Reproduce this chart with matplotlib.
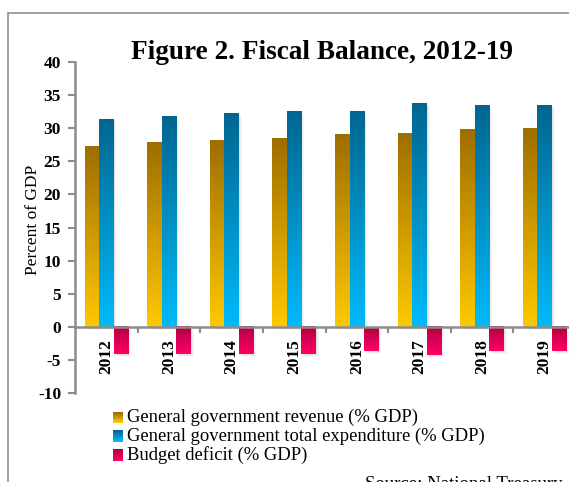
import numpy as np
import matplotlib.pyplot as plt
from matplotlib.colors import LinearSegmentedColormap
from matplotlib.patches import Rectangle
from matplotlib.legend_handler import HandlerBase

plt.rcParams['font.family'] = ['Liberation Serif', 'DejaVu Serif']
plt.rcParams['axes.unicode_minus'] = False

years = ['2012', '2013', '2014', '2015', '2016', '2017', '2018', '2019']
revenue = [27.3, 27.8, 28.1, 28.4, 29.1, 29.3, 29.9, 30.0]
expenditure = [31.4, 31.8, 32.3, 32.6, 32.6, 33.7, 33.4, 33.5]
deficit = [-4.1, -4.1, -4.1, -4.1, -3.6, -4.3, -3.7, -3.7]

labels = ['General government revenue (% GDP)',
          'General government total expenditure (% GDP)',
          'Budget deficit (% GDP)']
# (bottom colour, top colour) for each series
grads = [('#FFC800', '#9E6E00'),
         ('#00BAFA', '#006690'),
         ('#FF0068', '#B00040')]

fig = plt.figure(figsize=(5.69, 4.82), dpi=100)
ax = fig.add_axes([75/569, (482-393)/482, 501/569, 331/482])

x = np.arange(len(years))
w = 0.232
grad = np.linspace(0, 1, 256).reshape(-1, 1)

for k, vals in enumerate([revenue, expenditure, deficit]):
    cmap = LinearSegmentedColormap.from_list('g%d' % k, grads[k])
    bars = ax.bar(x + (k - 1) * w, vals, w, color='none', zorder=3)
    for b in bars:
        bx, by = b.get_x(), b.get_y()
        bw, bh = b.get_width(), b.get_height()
        y0, y1 = min(by, by + bh), max(by, by + bh)
        # soft shadow on the right side
        for i, a in enumerate([0.05, 0.04, 0.03]):
            ax.add_patch(Rectangle((bx + 0.015 * (i + 1), y0 - 0.15 * (i + 1)),
                                   bw, y1 - y0, color='black', alpha=a,
                                   lw=0, zorder=2))
        ax.imshow(grad, extent=[bx, bx + bw, y0, y1], origin='lower',
                  cmap=cmap, aspect='auto', zorder=3)

# spines first: moving the bottom spine resets the x ticks
for s in ['top', 'right']:
    ax.spines[s].set_visible(False)
ax.spines['bottom'].set_position(('data', 0))
for s in ['left', 'bottom']:
    ax.spines[s].set_color('#8C8C8C')
    ax.spines[s].set_linewidth(1.8)
    ax.spines[s].set_zorder(4)

ax.set_xlim(-0.5, 7.5)
ax.set_ylim(-10, 40)
ax.set_yticks(range(-10, 41, 5))
ax.set_xticks(x)
ax.set_xticks(np.arange(0.5, 7.6, 1), minor=True)
ax.tick_params(axis='x', which='major', length=0, pad=9, labelsize=12.5,
               labelrotation=90)
ax.tick_params(axis='x', which='minor', length=4, width=1.5, color='#8C8C8C',
               direction='out')
ax.tick_params(axis='y', length=5, width=1.5, color='#8C8C8C', pad=5,
               labelsize=12.5)
ax.set_xticklabels(years, fontweight='bold')
for t in ax.get_yticklabels():
    t.set_fontweight('bold')


class GradientHandle(HandlerBase):
    def __init__(self, c0, c1):
        super().__init__()
        self.cmap = LinearSegmentedColormap.from_list('h', [c0, c1])

    def create_artists(self, legend, orig, xd, yd, width, height, fontsize, trans):
        n = 12
        arts = []
        for i in range(n):
            r = Rectangle((xd, yd + height * i / n), width, height / n + 0.1,
                          color=self.cmap(i / (n - 1)), lw=0, transform=trans)
            arts.append(r)
        return arts


handles = [Rectangle((0, 0), 1, 1) for _ in labels]
hmap = {h: GradientHandle(*g) for h, g in zip(handles, grads)}
fig.legend(handles, labels, handler_map=hmap, loc='upper left',
           bbox_to_anchor=(113/569, (482-409)/482), frameon=False,
           fontsize=13.4, handlelength=0.55, handleheight=0.55,
           handletextpad=0.2, labelspacing=0.06, borderpad=0,
           borderaxespad=0)

fig.text(322/569, (482-59)/482, 'Figure 2. Fiscal Balance, 2012-19',
         ha='center', va='baseline', fontsize=19.6, fontweight='bold')
fig.text(33/569, (482-220)/482, 'Percent of GDP', rotation=90,
         ha='center', va='center', fontsize=12.5)
fig.text(365/569, (482-489)/482, 'Source: National Treasury',
         ha='left', va='baseline', fontsize=13.5)

# outer frame
fig.add_artist(Rectangle((8/569, -0.1), 1.2, 0.1 + (482-13)/482,
                         transform=fig.transFigure, fill=False,
                         edgecolor='#999999', lw=1.3))

fig.savefig('out.png', dpi=100)
